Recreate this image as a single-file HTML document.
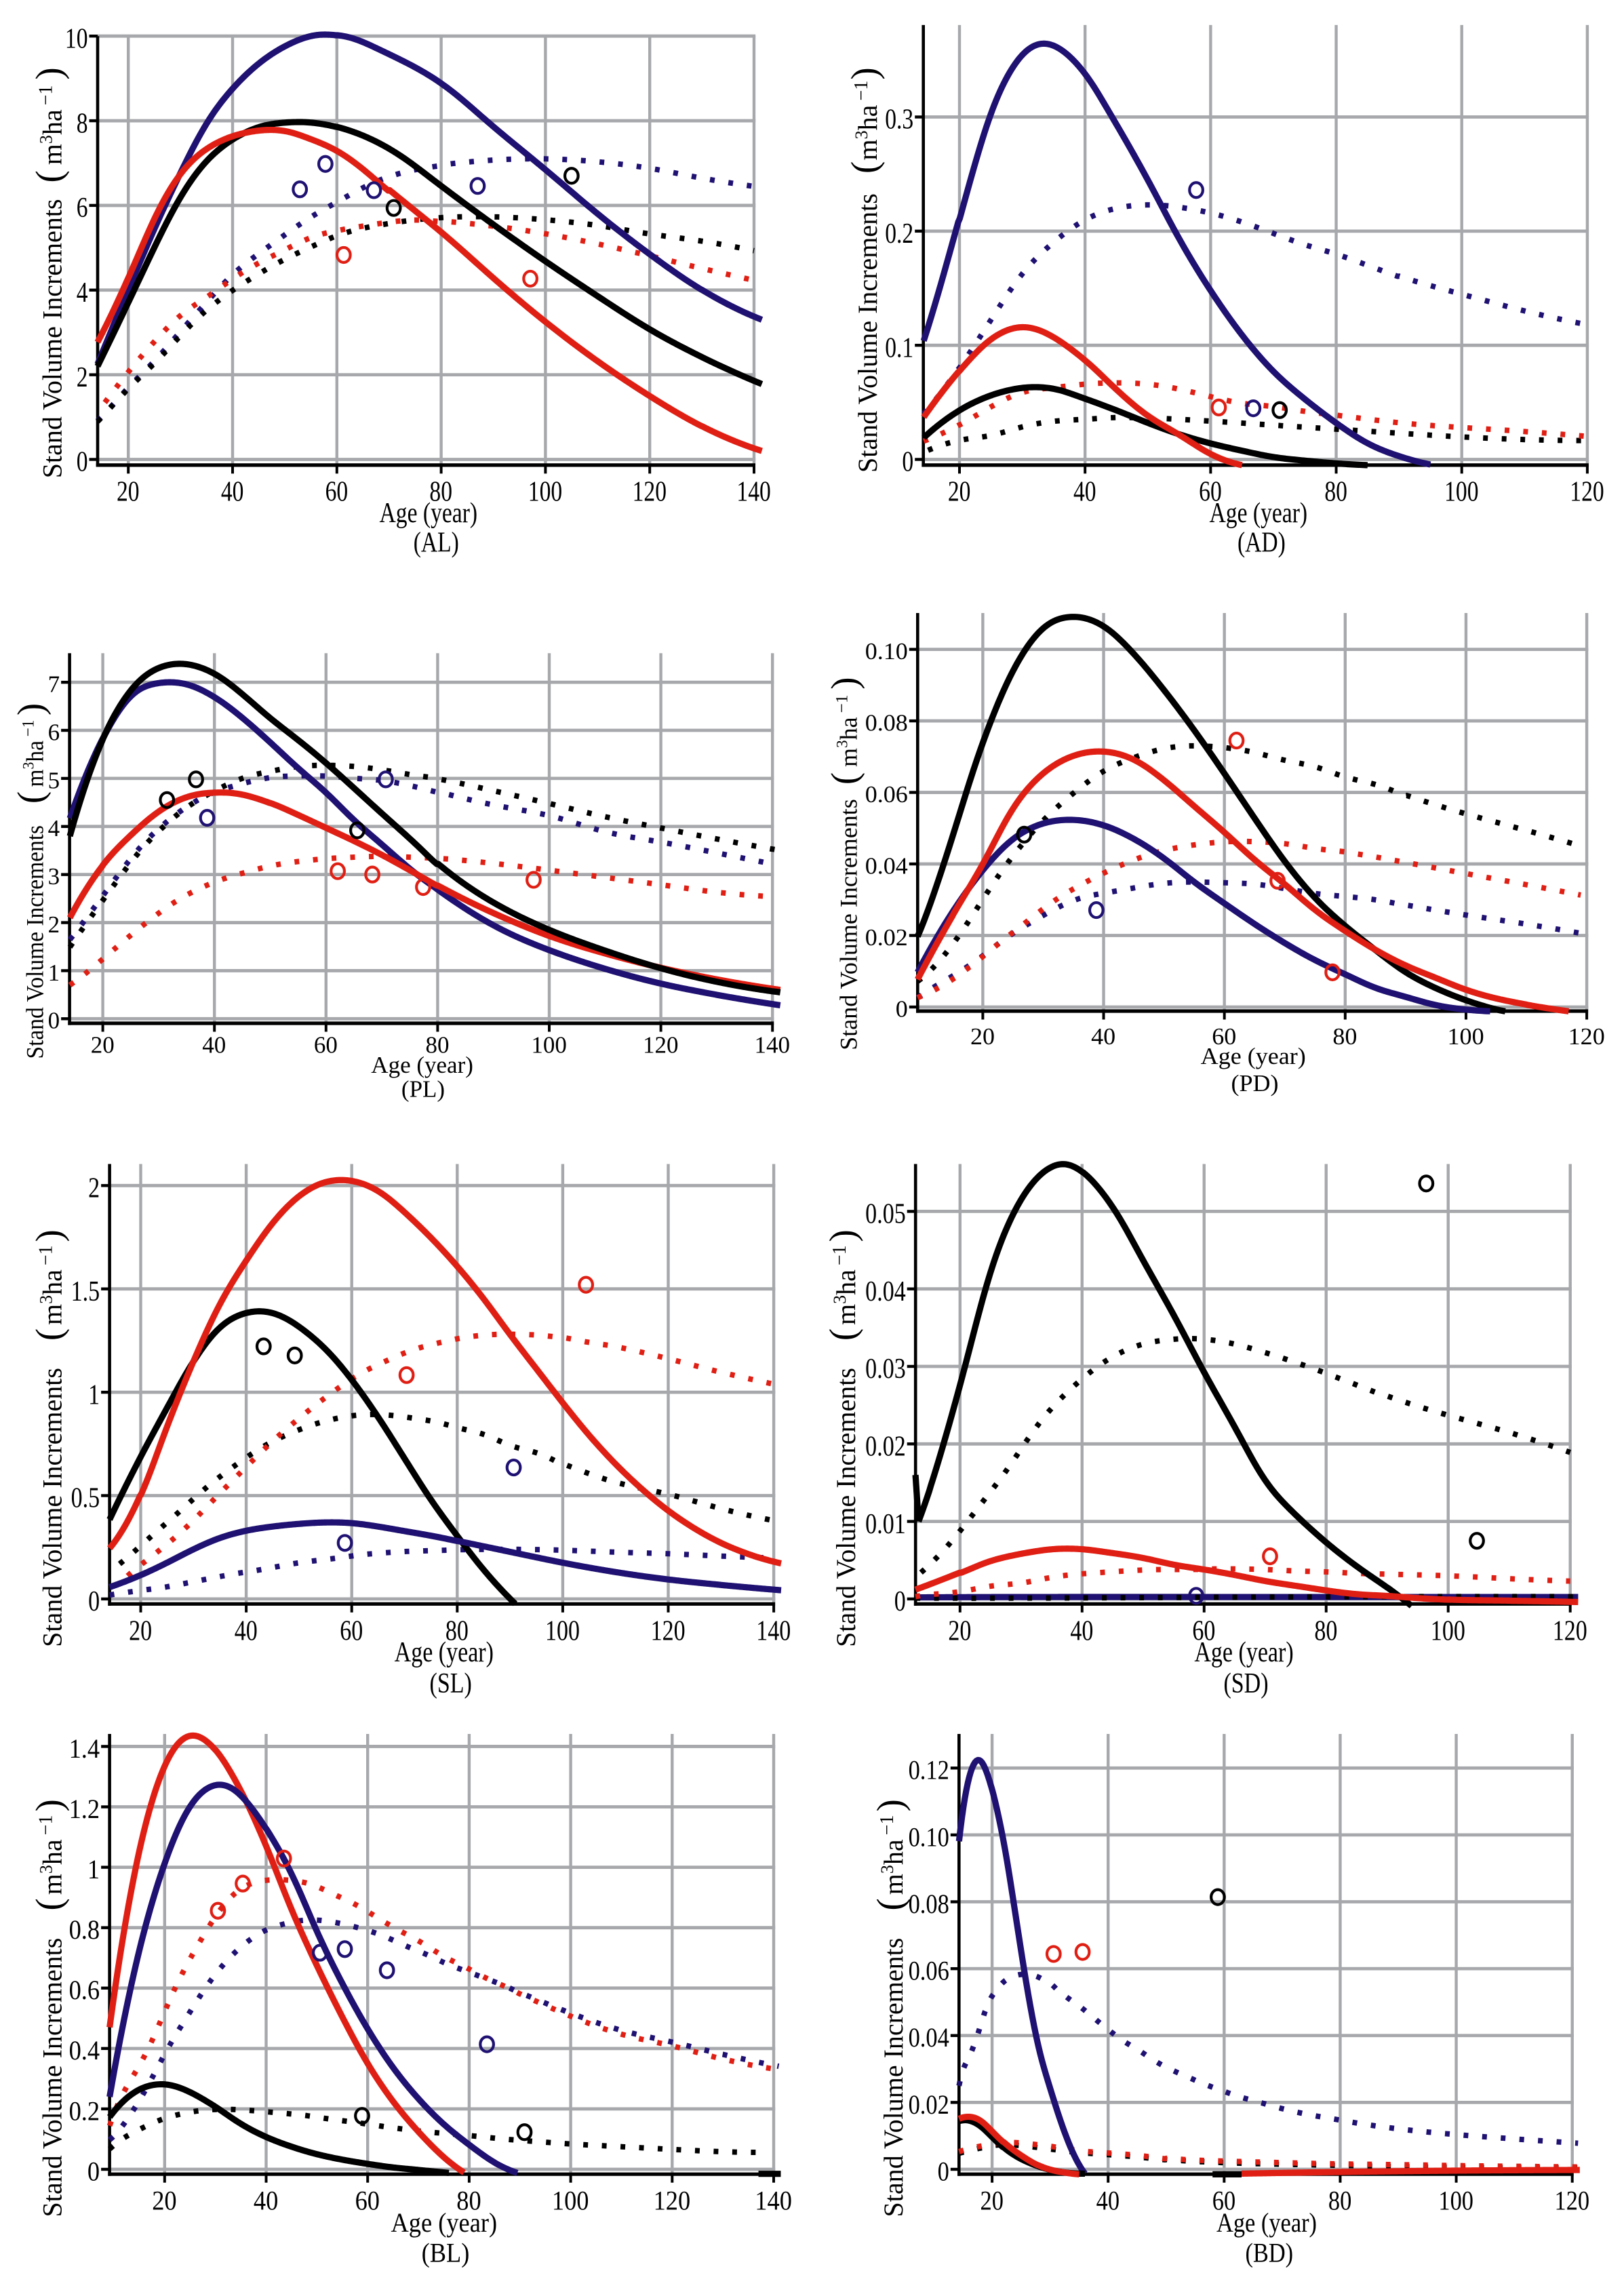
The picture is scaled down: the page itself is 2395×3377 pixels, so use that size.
<!DOCTYPE html>
<html lang="en">
<head>
<meta charset="utf-8">
<title>Stand Volume Increments by Age</title>
<style>
html,body{margin:0;padding:0;background:#fff;}
svg{display:block;}
text{font-family:"Liberation Serif","Times New Roman",serif;fill:#000;}
</style>
</head>
<body>
<svg id="chart" xmlns="http://www.w3.org/2000/svg" width="2395" height="3377" viewBox="0 0 2395 3377">
<rect x="0" y="0" width="2395" height="3377" fill="#ffffff"/>
</svg>
<script>
// ---------- tick values and labels ----------
const xTicksLong = [20,40,60,80,100,120,140];
const xTicksShort = [20,40,60,80,100,120];
const alYTicks = [0,2,4,6,8,10];
const alYLabels = ['0','2','4','6','8','10'];
const adYTicks = [0,0.1,0.2,0.3];
const adYLabels = ['0','0.1','0.2','0.3'];
const plYTicks = [0,1,2,3,4,5,6,7];
const plYLabels = ['0','1','2','3','4','5','6','7'];
const pdYTicks = [0,0.02,0.04,0.06,0.08,0.10];
const pdYLabels = ['0','0.02','0.04','0.06','0.08','0.10'];
const slYTicks = [0,0.5,1,1.5,2];
const slYLabels = ['0','0.5','1','1.5','2'];
const sdYTicks = [0,0.01,0.02,0.03,0.04,0.05];
const sdYLabels = ['0','0.01','0.02','0.03','0.04','0.05'];
const blYTicks = [0,0.2,0.4,0.6,0.8,1,1.2,1.4];
const blYLabels = ['0','0.2','0.4','0.6','0.8','1','1.2','1.4'];
const bdYTicks = [0,0.02,0.04,0.06,0.08,0.10,0.12];
const bdYLabels = ['0','0.02','0.04','0.06','0.08','0.10','0.12'];

// ---------- AL ----------
const alNavyAges = [14.1,20,25,30,35,40,45,50,55,58,60,70,80,90,100,110,120,130,141.5];
const alNavyValues = [2.25,4.0,5.45,6.75,7.95,8.75,9.35,9.75,10,10.05,10.0,9.55,8.9,7.85,6.85,5.8,4.85,4.0,3.3];
const alBlackAges = [14.1,20,25,30,35,40,45,50,53,60,70,80,90,100,110,120,130,141.5];
const alBlackValues = [2.2,3.7,5.0,6.2,7.05,7.55,7.85,7.95,7.97,7.85,7.35,6.45,5.55,4.68,3.86,3.07,2.42,1.78];
const alRedAges = [14.1,20,25,30,35,40,45,48,50,55,60,65,70,80,90,100,110,120,130,141.5];
const alRedValues = [2.77,4.25,5.7,6.75,7.33,7.63,7.76,7.78,7.77,7.55,7.3,6.85,6.33,5.38,4.28,3.25,2.32,1.5,0.78,0.2];
const alNavyDotAges = [14.1,17,20,25,30,35,40,45,50,55,60,65,70,75,80,90,100,110,120,130,140];
const alNavyDotValues = [0.92,1.25,1.73,2.3,3.03,3.7,4.38,4.85,5.3,5.73,6.07,6.42,6.68,6.84,6.94,7.07,7.1,7.03,6.88,6.64,6.45];
const alBlackDotAges = [14.1,17,20,25,30,35,40,45,50,55,60,65,70,75,80,90,100,110,120,130,140];
const alBlackDotValues = [0.9,1.25,1.7,2.25,2.93,3.53,3.99,4.38,4.73,5.01,5.29,5.46,5.57,5.66,5.71,5.73,5.66,5.53,5.32,5.16,4.93];
const alRedDotAges = [15.5,18,20,25,30,35,40,45,50,55,60,65,70,75,80,90,100,110,120,130,141.5];
const alRedDotValues = [1.35,1.73,2.08,2.77,3.42,3.81,4.27,4.64,4.94,5.25,5.4,5.51,5.6,5.66,5.61,5.51,5.33,5.09,4.81,4.51,4.19];
const alNavyObsAges = [52.9,57.8,67.1,87];
const alNavyObsValues = [6.38,6.98,6.36,6.46];
const alBlackObsAges = [70.9,105];
const alBlackObsValues = [5.94,6.7];
const alRedObsAges = [61.3,97.1];
const alRedObsValues = [4.83,4.27];

// ---------- AD ----------
const adNavyAges = [14.3,20,23,25,28,30,33.5,36,38,40,45,50,55,60,65,70,75,80,85,90,95];
const adNavyValues = [0.104,0.205,0.27,0.305,0.337,0.356,0.364,0.36,0.35,0.337,0.293,0.245,0.193,0.148,0.109,0.077,0.053,0.032,0.014,0.003,-0.0045];
const adBlackAges = [14.3,20,25,30,33,35,40,45,50,55,60,65,70,75,80,85];
const adBlackValues = [0.019,0.043,0.056,0.0626,0.0632,0.062,0.053,0.043,0.032,0.022,0.014,0.0077,0.002,-0.001,-0.0035,-0.005];
const adRedAges = [14.3,20,25,28,30,32,35,40,45,50,55,60,65];
const adRedValues = [0.037,0.077,0.105,0.114,0.116,0.115,0.106,0.087,0.061,0.038,0.022,0.0045,-0.005];
const adNavyDotAges = [14.3,20,25,30,35,40,45,50,55,58,60,65,70,75,80,85,90,100,110,120];
const adNavyDotValues = [0.04,0.08,0.122,0.163,0.19,0.21,0.22,0.223,0.221,0.218,0.216,0.208,0.198,0.188,0.18,0.17,0.16,0.145,0.13,0.118];
const adRedDotAges = [14.3,20,25,30,35,40,45,50,55,60,65,70,75,80,90,100,110,121];
const adRedDotValues = [0.016,0.03,0.046,0.059,0.0626,0.066,0.067,0.066,0.0616,0.055,0.049,0.0465,0.042,0.039,0.032,0.028,0.0245,0.0197];
const adBlackDotAges = [15,20,25,30,35,40,45,50,60,70,80,90,100,110,120];
const adBlackDotValues = [0.008,0.017,0.0206,0.0287,0.0335,0.035,0.0368,0.036,0.0335,0.03,0.0265,0.023,0.0197,0.0174,0.0165];
const adNavyObsAges = [57.7,66.8];
const adNavyObsValues = [0.236,0.0448];
const adBlackObsAges = [71];
const adBlackObsValues = [0.0432];
const adRedObsAges = [61.3];
const adRedObsValues = [0.0455];

// ---------- PL ----------
const plBlackAges = [14.1,20,25,30,33,35,40,45,50,55,60,65,70,75,80,90,100,110,120,130,141.4];
const plBlackValues = [3.8,5.82,6.83,7.3,7.38,7.37,7.18,6.75,6.25,5.8,5.32,4.8,4.27,3.75,3.2,2.42,1.85,1.42,1.05,0.77,0.55];
const plNavyAges = [14.1,20,25,30,33,35,40,45,50,55,60,65,70,75,80,90,100,110,120,130,141.4];
const plNavyValues = [4.17,5.82,6.72,6.98,6.99,6.96,6.69,6.26,5.75,5.21,4.71,4.13,3.63,3.12,2.69,1.94,1.43,1.04,0.73,0.5,0.28];
const plRedAges = [14.1,20,25,30,35,40,43,50,55,60,65,70,75,80,90,100,110,120,130,141.4];
const plRedValues = [2.1,3.2,3.81,4.31,4.61,4.7,4.7,4.49,4.24,3.97,3.7,3.41,3.09,2.76,2.2,1.72,1.36,1.06,0.82,0.6];
const plBlackDotAges = [14.1,16,18,20,22,24,26,28,31,33,36,39,42,45,50,55,60,65,70,75,80,90,100,110,120,130,141.4];
const plBlackDotValues = [1.49,1.81,2.15,2.45,2.78,3.09,3.4,3.69,3.97,4.24,4.47,4.67,4.85,5.01,5.14,5.25,5.27,5.25,5.18,5.08,5.0,4.74,4.48,4.2,3.97,3.74,3.5];
const plNavyDotAges = [14.1,16,18,20,22,24,26,28,31,33,36,39,43,46,50,55,60,65,70,75,80,90,100,110,120,130,140];
const plNavyDotValues = [1.65,1.92,2.24,2.55,2.87,3.18,3.47,3.76,4.02,4.26,4.47,4.67,4.82,4.92,5.02,5.05,5.05,5.0,4.96,4.85,4.71,4.44,4.24,3.88,3.68,3.45,3.22];
const plRedDotAges = [14.1,17,20,22,25,27,30,32,35,38,41,45,50,55,60,65,70,75,80,90,100,110,120,130,140];
const plRedDotValues = [0.7,0.95,1.22,1.47,1.71,1.95,2.17,2.38,2.57,2.74,2.89,3.02,3.18,3.27,3.33,3.36,3.38,3.36,3.34,3.23,3.09,2.94,2.79,2.63,2.54];
const plNavyObsAges = [38.7,70.7];
const plNavyObsValues = [4.18,4.98];
const plBlackObsAges = [31.5,36.7,65.6];
const plBlackObsValues = [4.55,4.98,3.92];
const plRedObsAges = [62.1,68.3,77.4,97.2];
const plRedObsValues = [3.07,3.0,2.74,2.89];

// ---------- PD ----------
const pdBlackAges = [9.2,12,15,20,25,30,35,40,45,50,55,60,65,70,75,80,85,90,95,100,105,106.5];
const pdBlackValues = [0.0198,0.0315,0.048,0.074,0.094,0.106,0.109,0.1065,0.0987,0.0886,0.0774,0.0653,0.0528,0.0407,0.0305,0.0227,0.016,0.0097,0.0053,0.0019,-0.0007,-0.0012];
const pdRedAges = [9.2,15,20,25,30,35,40,45,50,55,60,65,70,75,80,85,90,95,100,105,110,117];
const pdRedValues = [0.0077,0.0257,0.0397,0.0557,0.0653,0.0702,0.0714,0.0692,0.0634,0.0561,0.0489,0.0411,0.0344,0.0271,0.0213,0.016,0.0116,0.0082,0.0048,0.0024,0.0007,-0.0012];
const pdNavyAges = [9.2,15,20,25,30,35,40,45,50,55,60,65,70,75,80,85,90,95,100,104];
const pdNavyValues = [0.0097,0.0266,0.0382,0.047,0.0513,0.0523,0.0508,0.047,0.0416,0.0349,0.029,0.0232,0.0179,0.0131,0.0092,0.0053,0.0029,0.0005,-0.0007,-0.0012];
const pdBlackDotAges = [9.2,10.5,13,15,17,19,20,22,24,26,28,30,33,35,38,40,44,47,50,53,58,62,65,70,75,80,85,90,100,110,119];
const pdBlackDotValues = [0.0073,0.0087,0.0131,0.0176,0.0221,0.0266,0.031,0.0355,0.04,0.0442,0.0484,0.0526,0.0564,0.0601,0.0634,0.0663,0.0689,0.0709,0.0723,0.0729,0.0728,0.0721,0.0712,0.0689,0.0673,0.0642,0.0623,0.059,0.054,0.0494,0.045];
const pdRedDotAges = [9.2,12,15,18,20,25,28,30,33,36,39,42,45,48,52,55,58,61,65,70,75,80,90,100,110,119];
const pdRedDotValues = [0.0026,0.0048,0.0077,0.0113,0.0143,0.021,0.0244,0.0278,0.031,0.0339,0.0366,0.039,0.0411,0.0429,0.0445,0.0453,0.0459,0.0463,0.0462,0.0457,0.0443,0.0434,0.0404,0.0373,0.0342,0.0313];
const pdNavyDotAges = [9.2,12,15,18,20,25,28,30,33,35,40,44,47,50,53,57,60,65,70,75,80,85,90,100,110,120];
const pdNavyDotValues = [0.0026,0.0058,0.0087,0.0116,0.0145,0.0208,0.0234,0.0258,0.0281,0.03,0.0318,0.0329,0.0339,0.0346,0.0349,0.0349,0.0347,0.0344,0.0331,0.0317,0.0309,0.03,0.0284,0.0257,0.0232,0.0203];
const pdNavyObsAges = [38.8];
const pdNavyObsValues = [0.0271];
const pdBlackObsAges = [26.85];
const pdBlackObsValues = [0.0482];
const pdRedObsAges = [62,68.8,77.9];
const pdRedObsValues = [0.0745,0.0353,0.0097];

// ---------- SL ----------
const slBlackAges = [14.1,20,25,30,35,40,44,47,50,55,60,65,70,75,80,85,90,91];
const slBlackValues = [0.384,0.688,0.923,1.149,1.314,1.383,1.388,1.366,1.314,1.21,1.06,0.88,0.68,0.48,0.306,0.141,0.002,-0.024];
const slRedAges = [14.1,20,25,30,35,40,45,50,55,58,60,65,70,75,80,85,90,95,100,105,110,115,120,125,130,135,141.4];
const slRedValues = [0.245,0.497,0.836,1.149,1.427,1.635,1.818,1.948,2.017,2.026,2.022,1.974,1.87,1.748,1.609,1.453,1.279,1.114,0.949,0.792,0.653,0.532,0.427,0.341,0.271,0.219,0.172];
const slNavyAges = [14.1,20,25,30,35,40,45,50,55,60,65,70,75,80,90,100,110,120,130,141.4];
const slNavyValues = [0.057,0.115,0.175,0.24,0.295,0.33,0.35,0.363,0.37,0.367,0.35,0.328,0.306,0.28,0.228,0.175,0.13,0.094,0.068,0.042];
const slBlackDotAges = [16,19,21.5,24.5,27.5,30,33,36,39,42,45,49,52,56,59,63,67,70,74,78,80,85,90,95,100,110,120,130,140];
const slBlackDotValues = [0.17,0.231,0.294,0.36,0.422,0.487,0.551,0.61,0.665,0.718,0.763,0.806,0.839,0.865,0.884,0.891,0.891,0.879,0.865,0.848,0.824,0.799,0.74,0.709,0.65,0.563,0.509,0.436,0.379];
const slRedDotAges = [17.5,20,23,26,29,31.5,34,37,39.5,45,48,51,54,57,60,63,67,70,74,78,81,85,88,92,100,105,110,120,130,141.4];
const slRedDotValues = [0.111,0.167,0.224,0.287,0.353,0.419,0.487,0.561,0.627,0.763,0.831,0.893,0.956,1.01,1.065,1.11,1.154,1.192,1.223,1.246,1.265,1.275,1.281,1.279,1.265,1.241,1.222,1.162,1.096,1.032];
const slNavyDotAges = [14.1,20,25,28,32,35,39,43,46,50,54,58,60,64,67,71,75,80,90,100,110,120,130,140];
const slNavyDotValues = [0.019,0.042,0.057,0.075,0.092,0.109,0.127,0.141,0.158,0.175,0.188,0.198,0.21,0.219,0.224,0.231,0.233,0.238,0.24,0.236,0.226,0.219,0.207,0.198];
const slNavyObsAges = [58.7,90.7];
const slNavyObsValues = [0.271,0.636];
const slBlackObsAges = [43.3,49.2];
const slBlackObsValues = [1.222,1.178];
const slRedObsAges = [70.4,104.4];
const slRedObsValues = [1.083,1.52];

// ---------- SD ----------
const sdNavyAges = [12.7,30,60,80,90,121.3];
const sdNavyValues = [0.0002,0.00025,0.00025,0.00025,0.00025,0.00025];
const sdBlackHookAges = [12.7,13.2];
const sdBlackHookValues = [0.016,0.01];
const sdBlackAges = [13.2,15,20,25,30,35,37,40,45,50,55,60,65,70,75,80,85,90,94];
const sdBlackValues = [0.01,0.014,0.0274,0.0424,0.0515,0.0556,0.0563,0.055,0.0506,0.0436,0.0367,0.0292,0.0223,0.0152,0.0109,0.0073,0.0042,0.0015,-0.0009];
const sdRedAges = [12.7,20,25,30,35,38,40,45,50,55,60,65,70,75,80,85,90,95,100,110,121.3];
const sdRedValues = [0.0012,0.0033,0.0049,0.0058,0.0064,0.0065,0.0064,0.0059,0.0053,0.0044,0.0038,0.0031,0.0023,0.0017,0.0011,0.0006,0.0004,0.0001,-0.0001,-0.0002,-0.0004];
const sdBlackDotAges = [13.6,16,18.4,20.5,22.5,24.7,27,29,30.5,32.5,34.5,37,39.5,42,44.5,47.5,50.5,54,57,60,63,66,69,72,75,78,81,84,90,100,110,120];
const sdBlackDotValues = [0.0034,0.0052,0.0072,0.0092,0.0114,0.0136,0.0158,0.018,0.0201,0.0222,0.0242,0.0262,0.028,0.0297,0.031,0.0322,0.033,0.0334,0.0336,0.0335,0.0332,0.0327,0.032,0.0313,0.0305,0.0297,0.0288,0.0279,0.0261,0.0237,0.0215,0.0189];
const sdRedDotAges = [12.7,15,20,25,30,35,38,41,45,49,53,56,59,63,70,75,80,85,90,100,110,120];
const sdRedDotValues = [0.0003,0.0006,0.0009,0.0017,0.002,0.0028,0.0031,0.0033,0.0035,0.0037,0.0038,0.0038,0.0038,0.0039,0.0038,0.0036,0.0035,0.0033,0.0032,0.003,0.0026,0.0023];
const sdFlatDotAges = [12.7,30,60,90,121];
const sdFlatDotValues = [0.0001,0.0001,0.0002,0.0003,0.0003];
const sdNavyObsAges = [58.7];
const sdNavyObsValues = [0.0004];
const sdBlackObsAges = [96.4,104.7];
const sdBlackObsValues = [0.0536,0.0075];
const sdRedObsAges = [70.8];
const sdRedObsValues = [0.0055];

// ---------- BL ----------
const blRedAges = [9.16,14.2,18.3,22.4,26.2,30,35,40,45,50,55,60,65,70,75,79];
const blRedValues = [0.47,0.99,1.26,1.405,1.435,1.387,1.253,1.071,0.859,0.675,0.505,0.35,0.225,0.125,0.04,-0.011];
const blNavyAges = [9.16,12,15,18,20,23,26,29,31,34,37,40,45,50,55,60,65,70,75,80,85,89.5];
const blNavyValues = [0.24,0.495,0.725,0.91,1.01,1.14,1.225,1.265,1.274,1.253,1.198,1.126,0.98,0.786,0.616,0.465,0.337,0.234,0.149,0.082,0.022,-0.012];
const blBlackAges = [9.16,12,15,18,20,23,26,30,35,40,45,50,55,60,65,70,76];
const blBlackValues = [0.173,0.228,0.264,0.28,0.281,0.27,0.246,0.207,0.15,0.107,0.075,0.05,0.032,0.018,0.006,-0.002,-0.012];
const blBlackTailAges = [137,141.4];
const blBlackTailValues = [-0.015,-0.015];
const blRedDotAges = [9.16,12,15,17,19,20,22,24,26,28,30,32,35,38,42,46,50,53,57,60,63,66,70,73,76,80,83,87,90,100,110,120,130,141.4];
const blRedDotValues = [0.143,0.27,0.34,0.404,0.47,0.535,0.6,0.665,0.725,0.782,0.837,0.883,0.929,0.95,0.958,0.954,0.938,0.911,0.883,0.853,0.822,0.792,0.758,0.725,0.695,0.665,0.634,0.607,0.58,0.507,0.446,0.41,0.364,0.329];
const blNavyDotAges = [9.16,11,13,15.5,17.5,19.5,21,24,25.5,28,30.5,33,36,39,43,47,50,54,58,62,65,68,72,75,79,83,87,90,100,110,120,130,141];
const blNavyDotValues = [0.1,0.121,0.18,0.238,0.301,0.362,0.422,0.483,0.541,0.6,0.655,0.705,0.748,0.785,0.809,0.824,0.825,0.816,0.8,0.78,0.759,0.735,0.71,0.683,0.659,0.633,0.608,0.583,0.517,0.459,0.422,0.38,0.341];
const blBlackDotAges = [9.16,11.5,15.5,19,22.5,26,30,33.5,37.5,41,45,49,52,56,59,63,67,71,75,79,83,86,90,94,98,102,110,120,130,139];
const blBlackDotValues = [0.067,0.1,0.135,0.163,0.18,0.192,0.198,0.198,0.194,0.189,0.183,0.176,0.167,0.159,0.152,0.142,0.133,0.125,0.119,0.113,0.107,0.101,0.096,0.091,0.086,0.082,0.075,0.066,0.058,0.056];
const blNavyObsAges = [50.6,55.5,63.8,83.5];
const blNavyObsValues = [0.717,0.729,0.659,0.414];
const blBlackObsAges = [58.9,90.9];
const blBlackObsValues = [0.177,0.123];
const blRedObsAges = [43.5,35.4,30.5];
const blRedObsValues = [1.029,0.946,0.856];

// ---------- BD ----------
const bdNavyAges = [14.3,15,16,17,18,19,20,22,24,26,28,30,32,34,36];
const bdNavyValues = [0.098,0.108,0.117,0.1215,0.1223,0.119,0.113,0.098,0.0765,0.0546,0.0365,0.0244,0.0135,0.0047,-0.0013];
const bdBlackAges = [14.3,16,18,20,22,25,28,32,36];
const bdBlackValues = [0.0144,0.0146,0.0129,0.0096,0.0064,0.0031,0.0009,-0.0008,-0.0013];
const bdBlackTailAges = [58,63];
const bdBlackTailValues = [-0.0015,-0.0015];
const bdRedAges = [14.3,16,18,20,22,25,28,32,35];
const bdRedValues = [0.0151,0.0157,0.0146,0.0113,0.008,0.0042,0.0011,-0.0008,-0.0015];
const bdRedTailAges = [63,80,100,121.3];
const bdRedTailValues = [-0.0013,-0.0008,-0.0004,-0.0002];
const bdNavyDotAges = [14.3,15,17,18,19,21,24,26.5,30,32,35,37.5,40,42.5,45.5,48,51,54,57,60,63,66,69,72,75,78,81,84,90,100,110,121];
const bdNavyDotValues = [0.0248,0.0308,0.037,0.043,0.0488,0.054,0.0579,0.0581,0.0557,0.0524,0.0489,0.0453,0.0418,0.0385,0.0354,0.0324,0.0297,0.0274,0.0252,0.0233,0.0215,0.0201,0.0186,0.0173,0.0162,0.0153,0.0144,0.0135,0.0121,0.0104,0.0091,0.0078];
const bdBlackDotAges = [14.3,18,21,24,27,30,35,40,45,50,60,70,80,90,100,110,121];
const bdBlackDotValues = [0.0048,0.0063,0.0073,0.0072,0.0067,0.006,0.005,0.0044,0.0037,0.0028,0.002,0.0015,0.0012,0.0008,0.0006,0.0005,0.0004];
const bdRedDotAges = [14.3,18,21,24,27,30,35,40,45,50,60,70,80,90,100,110,121];
const bdRedDotValues = [0.0053,0.0069,0.0078,0.008,0.0075,0.0069,0.0055,0.0049,0.0042,0.0031,0.0025,0.002,0.0016,0.0014,0.0011,0.0009,0.0007];
const bdBlackObsAges = [58.9];
const bdBlackObsValues = [0.0814];
const bdRedObsAges = [30.6,35.6];
const bdRedObsValues = [0.0644,0.065];

// ---------- drawing helpers ----------
const NS = 'http://www.w3.org/2000/svg';
const root = document.getElementById('chart');
const COLORS = {navy:'#1f1172', black:'#000000', red:'#e01f14'};
const GRID = '#a6a8ab';

function make(tag, parent){
  const el = document.createElementNS(NS, tag);
  parent.appendChild(el);
  return el;
}

// local quadratic fit through the read-off values; gives a clean curve that follows the data
function fitAt(ages, values, a, bw){
  let k = 0;
  while(k < ages.length - 2 && ages[k+1] < a) k++;
  const gap = ages[k+1] - ages[k];
  const h = Math.max(bw, gap * 0.7);
  let s0=0,s1=0,s2=0,s3=0,s4=0,t0=0,t1=0,t2=0;
  for(let i=0;i<ages.length;i++){
    const t=(ages[i]-a)/h;
    const w=Math.exp(-0.5*t*t);
    s0+=w; s1+=w*t; s2+=w*t*t; s3+=w*t*t*t; s4+=w*t*t*t*t;
    t0+=w*values[i]; t1+=w*t*values[i]; t2+=w*t*t*values[i];
  }
  const det = s0*(s2*s4-s3*s3) - s1*(s1*s4-s2*s3) + s2*(s1*s3-s2*s2);
  if(Math.abs(det) < 1e-9){
    const f=(a-ages[k])/gap;
    return values[k]+(values[k+1]-values[k])*f;
  }
  return (t0*(s2*s4-s3*s3) - s1*(t1*s4-s3*t2) + s2*(t1*s3-s2*t2)) / det;
}

function curvePath(p, ages, values){
  const first = ages[0], last = ages[ages.length-1];
  if(ages.length < 4){
    return 'M' + ages.map(function(a,i){return p.xScale(a).toFixed(2)+' '+p.yScale(values[i]).toFixed(2);}).join('L');
  }
  const pts = [];
  const step = 0.25;
  for(let a=first; a<last; a+=step){
    pts.push(p.xScale(a).toFixed(2)+' '+p.yScale(fitAt(ages,values,a,p.bw)).toFixed(2));
  }
  pts.push(p.xScale(last).toFixed(2)+' '+p.yScale(fitAt(ages,values,last,p.bw)).toFixed(2));
  return 'M' + pts.join('L');
}

function makePanel(cfg){
  const g = make('g', root);
  
  
  const p = Object.assign({}, cfg);
  p.g = g;
  p.xScale = function(age){ return cfg.x20 + (age - 20) * cfg.xPerAge; };
  p.yScale = function(v){ return cfg.y0 - v * cfg.yUnit; };
  const xRight = p.xScale(cfg.xTicks[cfg.xTicks.length - 1]);

  cfg.yTicks.forEach(function(t){
    const ln = make('line', g);
    
    
    ln.setAttribute('x1', cfg.axisX);
    ln.setAttribute('x2', xRight + 2.2);
    ln.setAttribute('y1', p.yScale(t));
    ln.setAttribute('y2', p.yScale(t));
    ln.setAttribute('stroke', GRID);
    ln.setAttribute('stroke-width', 4.8);
  });
  cfg.xTicks.forEach(function(t){
    const ln = make('line', g);
    
    
    ln.setAttribute('x1', p.xScale(t));
    ln.setAttribute('x2', p.xScale(t));
    ln.setAttribute('y1', cfg.top);
    ln.setAttribute('y2', cfg.bottom);
    ln.setAttribute('stroke', GRID);
    ln.setAttribute('stroke-width', 4.4);
  });

  const ya = make('line', g);
  
  
  ya.setAttribute('x1', cfg.axisX);
  ya.setAttribute('x2', cfg.axisX);
  ya.setAttribute('y1', cfg.top);
  ya.setAttribute('y2', cfg.bottom + 2.6);
  ya.setAttribute('stroke', '#000');
  ya.setAttribute('stroke-width', 4.6);
  const xa = make('line', g);
  
  
  xa.setAttribute('x1', cfg.axisX - 2.3);
  xa.setAttribute('x2', xRight + 2);
  xa.setAttribute('y1', cfg.bottom);
  xa.setAttribute('y2', cfg.bottom);
  xa.setAttribute('stroke', '#000');
  xa.setAttribute('stroke-width', 5.2);

  cfg.yTicks.forEach(function(t,i){
    const tk = make('line', g);
    
    
    tk.setAttribute('x1', cfg.axisX - 12.5);
    tk.setAttribute('x2', cfg.axisX);
    tk.setAttribute('y1', p.yScale(t));
    tk.setAttribute('y2', p.yScale(t));
    tk.setAttribute('stroke', '#000');
    tk.setAttribute('stroke-width', 4.4);
    const tx = make('text', g);
    
    
    tx.setAttribute('text-anchor', 'end');
    tx.setAttribute('font-size', cfg.fs);
    tx.setAttribute('transform', 'translate(' + (cfg.axisX - 14.5) + ',' + (p.yScale(t) + cfg.fs * 0.41) + ') scale(' + cfg.tsx + ',1)');
    tx.textContent = cfg.yLabels[i];
  });
  cfg.xTicks.forEach(function(t){
    const tk = make('line', g);
    
    
    tk.setAttribute('x1', p.xScale(t));
    tk.setAttribute('x2', p.xScale(t));
    tk.setAttribute('y1', cfg.bottom);
    tk.setAttribute('y2', cfg.bottom + 12.5);
    tk.setAttribute('stroke', '#000');
    tk.setAttribute('stroke-width', 4);
    const tx = make('text', g);
    
    
    tx.setAttribute('text-anchor', 'middle');
    tx.setAttribute('font-size', cfg.fs);
    tx.setAttribute('transform', 'translate(' + (p.xScale(t) - 0.4) + ',' + cfg.xLabelBase + ') scale(' + cfg.tsx + ',1)');
    tx.textContent = String(t);
  });

  const age = make('text', g);
  
  
  age.setAttribute('text-anchor', 'middle');
  age.setAttribute('font-size', cfg.fs);
  age.setAttribute('transform', 'translate(' + cfg.ageX + ',' + cfg.ageY + ') scale(' + cfg.tsx + ',1)');
  age.textContent = 'Age (year)';
  const tag = make('text', g);
  
  
  tag.setAttribute('text-anchor', 'middle');
  tag.setAttribute('font-size', cfg.fs);
  tag.setAttribute('transform', 'translate(' + cfg.tagX + ',' + cfg.tagY + ') scale(' + cfg.tsx + ',1)');
  tag.textContent = '(' + cfg.tag + ')';

  const main = make('text', g);
  
  
  main.setAttribute('font-size', cfg.tfs);
  main.setAttribute('transform', 'translate(' + cfg.titleX + ',' + cfg.titleY + ') rotate(-90) scale(' + cfg.tk + ',1)');
  main.textContent = 'Stand Volume Increments';

  const open = make('text', g);
  
  
  open.setAttribute('font-size', 55);
  open.setAttribute('text-anchor', 'middle');
  open.setAttribute('transform', 'translate(' + cfg.titleX + ',' + cfg.parenOpen + ') rotate(-90)');
  open.textContent = '(';
  const close = make('text', g);
  
  
  close.setAttribute('font-size', 55);
  close.setAttribute('text-anchor', 'middle');
  close.setAttribute('transform', 'translate(' + cfg.titleX + ',' + cfg.parenClose + ') rotate(-90)');
  close.textContent = ')';

  const unit = make('text', g);
  
  
  unit.setAttribute('font-size', cfg.tfs);
  unit.setAttribute('text-anchor', 'middle');
  unit.setAttribute('transform', 'translate(' + cfg.titleX + ',' + ((cfg.parenOpen + cfg.parenClose) / 2) + ') rotate(-90) scale(' + cfg.tk + ',1)');
  const parts = [['m',0,cfg.tfs,0],['3',-14,cfg.tfs*0.65,0],['ha',14,cfg.tfs,0],['\u22121',-14,cfg.tfs*0.7,6]];
  parts.forEach(function(pt){
    const sp = make('tspan', unit);
    sp.setAttribute('dy', pt[1]);
    sp.setAttribute('dx', pt[3]);
    sp.setAttribute('font-size', pt[2]);
    sp.textContent = pt[0];
  });
  return p;
}

function drawCurve(p, ages, values, color, dotted, name){
  const path = make('path', p.g);
  
  
  path.setAttribute('d', curvePath(p, ages, values));
  path.setAttribute('fill', 'none');
  path.setAttribute('stroke', COLORS[color]);
  if(dotted){
    path.setAttribute('stroke-width', 8);
    path.setAttribute('stroke-dasharray', '7 20.5');
  } else {
    path.setAttribute('stroke-width', 9.2);
    path.setAttribute('stroke-linejoin', 'round');
  }
}

function drawObserved(p, ages, values, color, name){
  ages.forEach(function(a,i){
    const c = make('ellipse', p.g);
    
    
    c.setAttribute('cx', p.xScale(a));
    c.setAttribute('cy', p.yScale(values[i]));
    c.setAttribute('rx', 9.8);
    c.setAttribute('ry', 11);
    c.setAttribute('fill', 'none');
    c.setAttribute('stroke', COLORS[color]);
    c.setAttribute('stroke-width', 4.2);
  });
}

// ---------- panels ----------
const al = makePanel({tag:'AL',bw:4,x20:189.2,xPerAge:7.69,y0:677.5,yUnit:62.43,axisX:144,bottom:685.9,top:53.2,xTicks:xTicksLong,yTicks:alYTicks,yLabels:alYLabels,fs:42,tsx:0.8,xLabelBase:738.7,ageX:631.8,ageY:770,tagX:643.3,tagY:813.7,titleX:90.4,titleY:705.2,tfs:40,tk:1,parenOpen:260.4,parenClose:108.5});
drawCurve(al,alNavyDotAges,alNavyDotValues,'navy',true,'al-navy-dotted-curve');
drawCurve(al,alBlackDotAges,alBlackDotValues,'black',true,'al-black-dotted-curve');
drawCurve(al,alRedDotAges,alRedDotValues,'red',true,'al-red-dotted-curve');
drawCurve(al,alNavyAges,alNavyValues,'navy',false,'al-navy-solid-curve');
drawCurve(al,alBlackAges,alBlackValues,'black',false,'al-black-solid-curve');
drawCurve(al,alRedAges,alRedValues,'red',false,'al-red-solid-curve');
drawObserved(al,alNavyObsAges,alNavyObsValues,'navy','al-navy-observed-point');
drawObserved(al,alBlackObsAges,alBlackObsValues,'black','al-black-observed-point');
drawObserved(al,alRedObsAges,alRedObsValues,'red','al-red-observed-point');

const ad = makePanel({tag:'AD',bw:3.5,x20:1415,xPerAge:9.259,y0:677.5,yUnit:1683.3,axisX:1361.7,bottom:685.9,top:36.9,xTicks:xTicksShort,yTicks:adYTicks,yLabels:adYLabels,fs:42,tsx:0.8,xLabelBase:738.7,ageX:1855.8,ageY:770,tagX:1860.4,tagY:813.7,titleX:1293,titleY:697,tfs:40,tk:1,parenOpen:246.8,parenClose:108.5});
drawCurve(ad,adNavyDotAges,adNavyDotValues,'navy',true,'ad-navy-dotted-curve');
drawCurve(ad,adBlackDotAges,adBlackDotValues,'black',true,'ad-black-dotted-curve');
drawCurve(ad,adRedDotAges,adRedDotValues,'red',true,'ad-red-dotted-curve');
drawCurve(ad,adNavyAges,adNavyValues,'navy',false,'ad-navy-solid-curve');
drawCurve(ad,adBlackAges,adBlackValues,'black',false,'ad-black-solid-curve');
drawCurve(ad,adRedAges,adRedValues,'red',false,'ad-red-solid-curve');
drawObserved(ad,adNavyObsAges,adNavyObsValues,'navy','ad-navy-observed-point');
drawObserved(ad,adBlackObsAges,adBlackObsValues,'black','ad-black-observed-point');
drawObserved(ad,adRedObsAges,adRedObsValues,'red','ad-red-observed-point');

const pl = makePanel({tag:'PL',bw:3.5,x20:151.6,xPerAge:8.23,y0:1502.3,yUnit:70.88,axisX:102.6,bottom:1509,top:963.2,xTicks:xTicksLong,yTicks:plYTicks,yLabels:plYLabels,fs:35,tsx:1,xLabelBase:1552.7,ageX:622.6,ageY:1582,tagX:624,tagY:1617.7,titleX:63.6,titleY:1561.5,tfs:36,tk:0.93,parenOpen:1176,parenClose:1046});
drawCurve(pl,plBlackDotAges,plBlackDotValues,'black',true,'pl-black-dotted-curve');
drawCurve(pl,plNavyDotAges,plNavyDotValues,'navy',true,'pl-navy-dotted-curve');
drawCurve(pl,plRedDotAges,plRedDotValues,'red',true,'pl-red-dotted-curve');
drawCurve(pl,plNavyAges,plNavyValues,'navy',false,'pl-navy-solid-curve');
drawCurve(pl,plRedAges,plRedValues,'red',false,'pl-red-solid-curve');
drawCurve(pl,plBlackAges,plBlackValues,'black',false,'pl-black-solid-curve');
drawObserved(pl,plNavyObsAges,plNavyObsValues,'navy','pl-navy-observed-point');
drawObserved(pl,plBlackObsAges,plBlackObsValues,'black','pl-black-observed-point');
drawObserved(pl,plRedObsAges,plRedObsValues,'red','pl-red-observed-point');

const pd = makePanel({tag:'PD',bw:3.5,x20:1449.4,xPerAge:8.907,y0:1485,yUnit:5274,axisX:1353.3,bottom:1491,top:904,xTicks:xTicksShort,yTicks:pdYTicks,yLabels:pdYLabels,fs:35,tsx:1.03,xLabelBase:1540,ageX:1848.2,ageY:1569,tagX:1850.5,tagY:1609,titleX:1263.3,titleY:1548.8,tfs:36,tk:1,parenOpen:1148,parenClose:1007.6});
drawCurve(pd,pdNavyDotAges,pdNavyDotValues,'navy',true,'pd-navy-dotted-curve');
drawCurve(pd,pdBlackDotAges,pdBlackDotValues,'black',true,'pd-black-dotted-curve');
drawCurve(pd,pdRedDotAges,pdRedDotValues,'red',true,'pd-red-dotted-curve');
drawCurve(pd,pdBlackAges,pdBlackValues,'black',false,'pd-black-solid-curve');
drawCurve(pd,pdNavyAges,pdNavyValues,'navy',false,'pd-navy-solid-curve');
drawCurve(pd,pdRedAges,pdRedValues,'red',false,'pd-red-solid-curve');
drawObserved(pd,pdNavyObsAges,pdNavyObsValues,'navy','pd-navy-observed-point');
drawObserved(pd,pdBlackObsAges,pdBlackObsValues,'black','pd-black-observed-point');
drawObserved(pd,pdRedObsAges,pdRedObsValues,'red','pd-red-observed-point');

const sl = makePanel({tag:'SL',bw:3.5,x20:207.5,xPerAge:7.78,y0:2357.9,yUnit:304.8,axisX:161.6,bottom:2365.3,top:1716.5,xTicks:xTicksLong,yTicks:slYTicks,yLabels:slYLabels,fs:42,tsx:0.81,xLabelBase:2418.3,ageX:654.8,ageY:2450,tagX:664.7,tagY:2496,titleX:90.4,titleY:2428.9,tfs:40,tk:1,parenOpen:1968,parenClose:1822.4});
drawCurve(sl,slNavyDotAges,slNavyDotValues,'navy',true,'sl-navy-dotted-curve');
drawCurve(sl,slBlackDotAges,slBlackDotValues,'black',true,'sl-black-dotted-curve');
drawCurve(sl,slRedDotAges,slRedDotValues,'red',true,'sl-red-dotted-curve');
drawCurve(sl,slBlackAges,slBlackValues,'black',false,'sl-black-solid-curve');
drawCurve(sl,slNavyAges,slNavyValues,'navy',false,'sl-navy-solid-curve');
drawCurve(sl,slRedAges,slRedValues,'red',false,'sl-red-solid-curve');
drawObserved(sl,slNavyObsAges,slNavyObsValues,'navy','sl-navy-observed-point');
drawObserved(sl,slBlackObsAges,slBlackObsValues,'black','sl-black-observed-point');
drawObserved(sl,slRedObsAges,slRedObsValues,'red','sl-red-observed-point');

const sd = makePanel({tag:'SD',bw:3,x20:1415.8,xPerAge:8.999,y0:2357.9,yUnit:11430,axisX:1350.2,bottom:2365.3,top:1716.5,xTicks:xTicksShort,yTicks:sdYTicks,yLabels:sdYLabels,fs:42,tsx:0.81,xLabelBase:2418.3,ageX:1834.5,ageY:2450,tagX:1837.5,tagY:2496,titleX:1261,titleY:2428.9,tfs:40,tk:1,parenOpen:1968,parenClose:1822.4});
drawCurve(sd,sdNavyAges,sdNavyValues,'navy',false,'sd-navy-solid-curve');
drawCurve(sd,sdBlackDotAges,sdBlackDotValues,'black',true,'sd-black-dotted-curve');
drawCurve(sd,sdFlatDotAges,sdFlatDotValues,'black',true,'sd-flat-dotted-curve');
drawCurve(sd,sdRedDotAges,sdRedDotValues,'red',true,'sd-red-dotted-curve');
drawCurve(sd,sdBlackHookAges,sdBlackHookValues,'black',false,'sd-black-solid-hook');
drawCurve(sd,sdBlackAges,sdBlackValues,'black',false,'sd-black-solid-curve');
drawCurve(sd,sdRedAges,sdRedValues,'red',false,'sd-red-solid-curve');
drawObserved(sd,sdNavyObsAges,sdNavyObsValues,'navy','sd-navy-observed-point');
drawObserved(sd,sdBlackObsAges,sdBlackObsValues,'black','sd-black-observed-point');
drawObserved(sd,sdRedObsAges,sdRedObsValues,'red','sd-red-observed-point');

const bl = makePanel({tag:'BL',bw:3,x20:242.8,xPerAge:7.485,y0:3199,yUnit:445.4,axisX:161.6,bottom:3206.2,top:2557,xTicks:xTicksLong,yTicks:blYTicks,yLabels:blYLabels,fs:40,tsx:0.91,xLabelBase:3258.3,ageX:654.8,ageY:3291,tagX:657,tagY:3335.4,titleX:90.4,titleY:3269.5,tfs:40,tk:1,parenOpen:2808.4,parenClose:2662.4});
drawCurve(bl,blBlackDotAges,blBlackDotValues,'black',true,'bl-black-dotted-curve');
drawCurve(bl,blNavyDotAges,blNavyDotValues,'navy',true,'bl-navy-dotted-curve');
drawCurve(bl,blRedDotAges,blRedDotValues,'red',true,'bl-red-dotted-curve');
drawCurve(bl,blRedAges,blRedValues,'red',false,'bl-red-solid-curve');
drawCurve(bl,blNavyAges,blNavyValues,'navy',false,'bl-navy-solid-curve');
drawCurve(bl,blBlackAges,blBlackValues,'black',false,'bl-black-solid-curve');
drawCurve(bl,blBlackTailAges,blBlackTailValues,'black',false,'bl-black-solid-tail');
drawObserved(bl,blNavyObsAges,blNavyObsValues,'navy','bl-navy-observed-point');
drawObserved(bl,blBlackObsAges,blBlackObsValues,'black','bl-black-observed-point');
drawObserved(bl,blRedObsAges,blRedObsValues,'red','bl-red-observed-point');

const bd = makePanel({tag:'BD',bw:1.3,x20:1463.1,xPerAge:8.556,y0:3199,yUnit:4931,axisX:1414.3,bottom:3206.2,top:2557,xTicks:xTicksShort,yTicks:bdYTicks,yLabels:bdYLabels,fs:40,tsx:0.86,xLabelBase:3258.3,ageX:1868,ageY:3291,tagX:1871.8,tagY:3335.4,titleX:1331.2,titleY:3269.5,tfs:40,tk:1,parenOpen:2808.4,parenClose:2662.4});
drawCurve(bd,bdNavyDotAges,bdNavyDotValues,'navy',true,'bd-navy-dotted-curve');
drawCurve(bd,bdBlackDotAges,bdBlackDotValues,'black',true,'bd-black-dotted-curve');
drawCurve(bd,bdRedDotAges,bdRedDotValues,'red',true,'bd-red-dotted-curve');
drawCurve(bd,bdNavyAges,bdNavyValues,'navy',false,'bd-navy-solid-curve');
drawCurve(bd,bdBlackAges,bdBlackValues,'black',false,'bd-black-solid-curve');
drawCurve(bd,bdBlackTailAges,bdBlackTailValues,'black',false,'bd-black-solid-tail');
drawCurve(bd,bdRedAges,bdRedValues,'red',false,'bd-red-solid-curve');
drawCurve(bd,bdRedTailAges,bdRedTailValues,'red',false,'bd-red-solid-tail');
drawObserved(bd,bdBlackObsAges,bdBlackObsValues,'black','bd-black-observed-point');
drawObserved(bd,bdRedObsAges,bdRedObsValues,'red','bd-red-observed-point');
</script>
</body>
</html>
